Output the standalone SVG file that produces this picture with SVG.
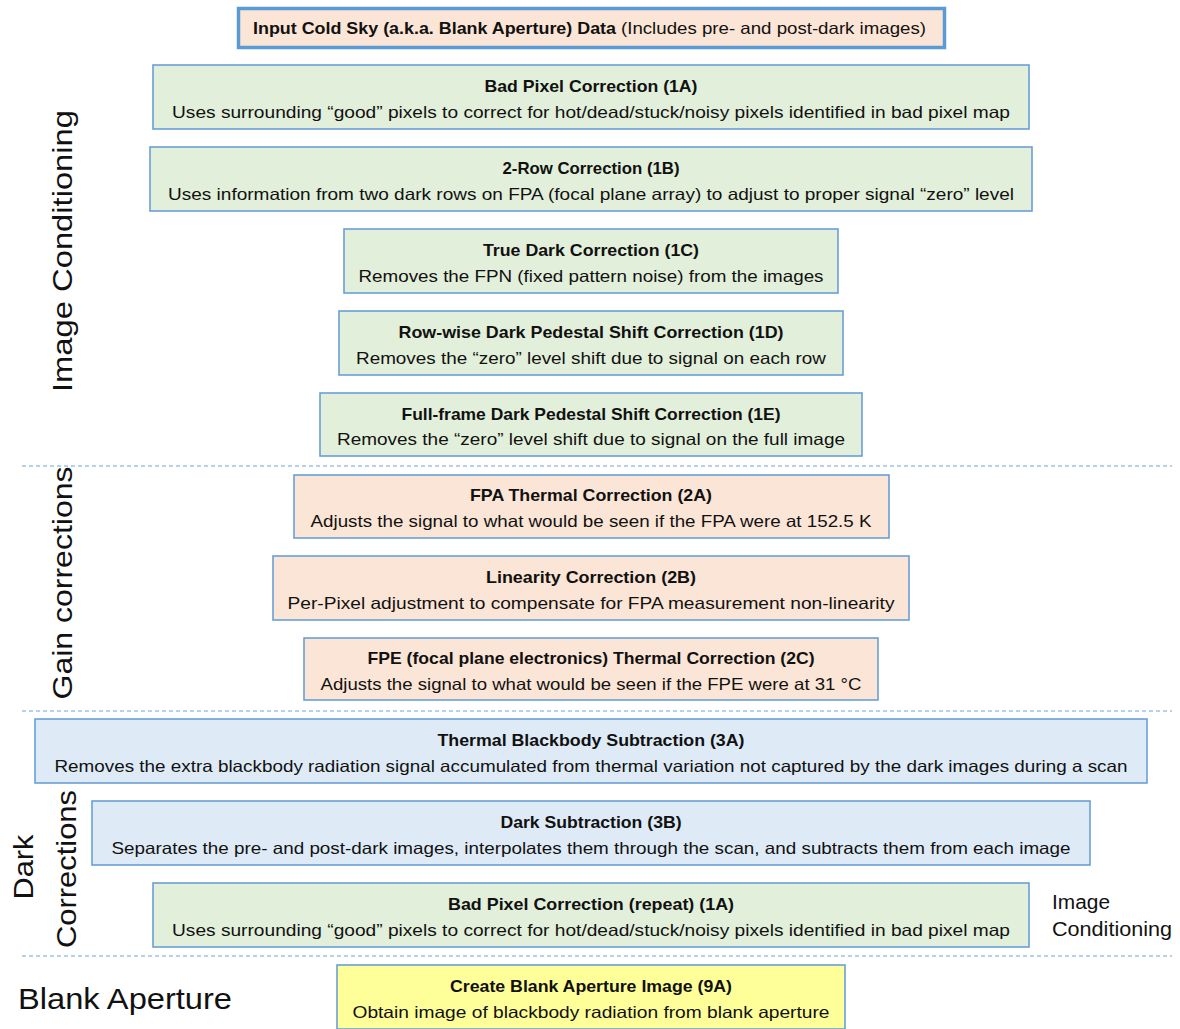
<svg xmlns="http://www.w3.org/2000/svg" width="1180" height="1029" viewBox="0 0 1180 1029">
<style>
text{font-family:"Liberation Sans",Arial,sans-serif;fill:#111;}
.t{font-size:16.5px;font-weight:bold;text-anchor:middle;}
.d{font-size:16.5px;text-anchor:middle;}
.box{stroke:#6a9fd6;stroke-width:1.6;}
.g{fill:#e2efda;}
.p{fill:#fbe5d6;}
.b{fill:#deebf7;}
.y{fill:#ffff99;}
.side{font-size:28px;text-anchor:middle;}
.sep{stroke:#9dc3e6;stroke-width:1.3;stroke-dasharray:4 3;fill:none;}
</style>
<rect width="1180" height="1029" fill="#fff"/>
<g id="separators">
<line class="sep" x1="22" y1="466" x2="1172" y2="466"/>
<line class="sep" x1="22" y1="711" x2="1172" y2="711"/>
<line class="sep" x1="22" y1="956" x2="1172" y2="956"/>
</g>
<g id="labels">
<text class="side" transform="translate(72,251) rotate(-90)" textLength="282" lengthAdjust="spacingAndGlyphs">Image Conditioning</text>
<text class="side" transform="translate(72,583) rotate(-90)" textLength="233" lengthAdjust="spacingAndGlyphs">Gain corrections</text>
<text class="side" transform="translate(33,867) rotate(-90)" textLength="65" lengthAdjust="spacingAndGlyphs">Dark</text>
<text class="side" transform="translate(76,869) rotate(-90)" textLength="158" lengthAdjust="spacingAndGlyphs">Corrections</text>
<text style="font-size:20px" x="1052" y="909" textLength="58" lengthAdjust="spacingAndGlyphs">Image</text>
<text style="font-size:20px" x="1052" y="936" textLength="120" lengthAdjust="spacingAndGlyphs">Conditioning</text>
<text style="font-size:30px" x="18" y="1009" textLength="214" lengthAdjust="spacingAndGlyphs">Blank Aperture</text>
</g>
<g id="input">
<rect x="238.5" y="8.5" width="706" height="39" fill="#fbe5d6" stroke="#5b9bd5" stroke-width="3.5"/>
<text style="font-size:16.5px;font-weight:bold" x="253" y="34" textLength="363" lengthAdjust="spacingAndGlyphs">Input Cold Sky (a.k.a. Blank Aperture) Data</text>
<text style="font-size:16.5px" x="621" y="34" textLength="305" lengthAdjust="spacingAndGlyphs">(Includes pre- and post-dark images)</text>
</g>
<g id="n1A">
<rect class="box g" x="153" y="65" width="876" height="64"/>
<text class="t" x="591" y="92" textLength="213" lengthAdjust="spacingAndGlyphs">Bad Pixel Correction (1A)</text>
<text class="d" x="591" y="118" textLength="838" lengthAdjust="spacingAndGlyphs">Uses surrounding “good” pixels to correct for hot/dead/stuck/noisy pixels identified in bad pixel map</text>
</g>
<g id="n1B">
<rect class="box g" x="150" y="147" width="882" height="64"/>
<text class="t" x="591" y="174" textLength="177" lengthAdjust="spacingAndGlyphs">2-Row Correction (1B)</text>
<text class="d" x="591" y="200" textLength="846" lengthAdjust="spacingAndGlyphs">Uses information from two dark rows on FPA (focal plane array) to adjust to proper signal “zero” level</text>
</g>
<g id="n1C">
<rect class="box g" x="344" y="229" width="494" height="64"/>
<text class="t" x="591" y="256" textLength="216" lengthAdjust="spacingAndGlyphs">True Dark Correction (1C)</text>
<text class="d" x="591" y="282" textLength="465" lengthAdjust="spacingAndGlyphs">Removes the FPN (fixed pattern noise) from the images</text>
</g>
<g id="n1D">
<rect class="box g" x="339" y="311" width="504" height="64"/>
<text class="t" x="591" y="338" textLength="385" lengthAdjust="spacingAndGlyphs">Row-wise Dark Pedestal Shift Correction (1D)</text>
<text class="d" x="591" y="364" textLength="470" lengthAdjust="spacingAndGlyphs">Removes the “zero” level shift due to signal on each row</text>
</g>
<g id="n1E">
<rect class="box g" x="320" y="393" width="542" height="63"/>
<text class="t" x="591" y="420" textLength="379" lengthAdjust="spacingAndGlyphs">Full-frame Dark Pedestal Shift Correction (1E)</text>
<text class="d" x="591" y="445" textLength="508" lengthAdjust="spacingAndGlyphs">Removes the “zero” level shift due to signal on the full image</text>
</g>
<g id="n2A">
<rect class="box p" x="294" y="475" width="595" height="63"/>
<text class="t" x="591" y="501" textLength="242" lengthAdjust="spacingAndGlyphs">FPA Thermal Correction (2A)</text>
<text class="d" x="591" y="527" textLength="561" lengthAdjust="spacingAndGlyphs">Adjusts the signal to what would be seen if the FPA were at 152.5 K</text>
</g>
<g id="n2B">
<rect class="box p" x="273" y="556" width="636" height="64"/>
<text class="t" x="591" y="583" textLength="210" lengthAdjust="spacingAndGlyphs">Linearity Correction (2B)</text>
<text class="d" x="591" y="609" textLength="607" lengthAdjust="spacingAndGlyphs">Per-Pixel adjustment to compensate for FPA measurement non-linearity</text>
</g>
<g id="n2C">
<rect class="box p" x="304" y="638" width="574" height="62"/>
<text class="t" x="591" y="664" textLength="447" lengthAdjust="spacingAndGlyphs">FPE (focal plane electronics) Thermal Correction (2C)</text>
<text class="d" x="591" y="690" textLength="541" lengthAdjust="spacingAndGlyphs">Adjusts the signal to what would be seen if the FPE were at 31 °C</text>
</g>
<g id="n3A">
<rect class="box b" x="35" y="719" width="1112" height="64"/>
<text class="t" x="591" y="746" textLength="307" lengthAdjust="spacingAndGlyphs">Thermal Blackbody Subtraction (3A)</text>
<text class="d" x="591" y="772" textLength="1073" lengthAdjust="spacingAndGlyphs">Removes the extra blackbody radiation signal accumulated from thermal variation not captured by the dark images during a scan</text>
</g>
<g id="n3B">
<rect class="box b" x="92" y="801" width="998" height="64"/>
<text class="t" x="591" y="828" textLength="181" lengthAdjust="spacingAndGlyphs">Dark Subtraction (3B)</text>
<text class="d" x="591" y="854" textLength="959" lengthAdjust="spacingAndGlyphs">Separates the pre- and post-dark images, interpolates them through the scan, and subtracts them from each image</text>
</g>
<g id="n1A_repeat">
<rect class="box g" x="153" y="883" width="876" height="64"/>
<text class="t" x="591" y="910" textLength="286" lengthAdjust="spacingAndGlyphs">Bad Pixel Correction (repeat) (1A)</text>
<text class="d" x="591" y="936" textLength="838" lengthAdjust="spacingAndGlyphs">Uses surrounding “good” pixels to correct for hot/dead/stuck/noisy pixels identified in bad pixel map</text>
</g>
<g id="n9A">
<rect class="box y" x="337" y="965" width="508" height="64"/>
<text class="t" x="591" y="992" textLength="282" lengthAdjust="spacingAndGlyphs">Create Blank Aperture Image (9A)</text>
<text class="d" x="591" y="1018" textLength="477" lengthAdjust="spacingAndGlyphs">Obtain image of blackbody radiation from blank aperture</text>
</g>
</svg>
